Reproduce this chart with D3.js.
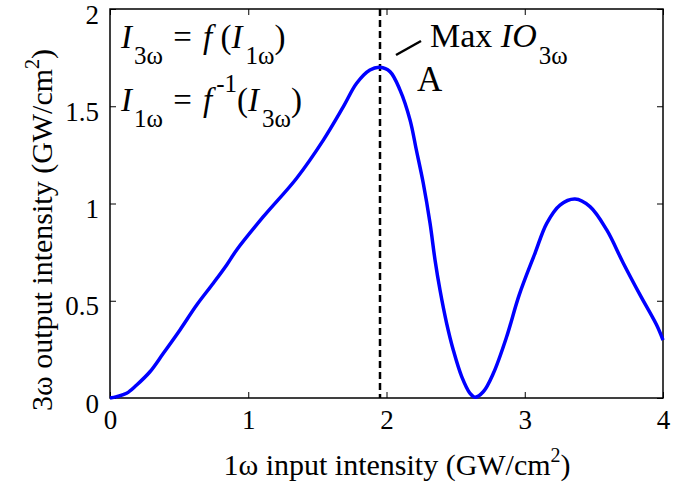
<!DOCTYPE html>
<html>
<head>
<meta charset="utf-8">
<script src="https://cdn.jsdelivr.net/npm/d3@7"></script>
<style>
  body { margin: 0; background: #fff; }
  svg text { font-family: "Liberation Serif", "Times New Roman", serif; fill: #000; }
</style>
</head>
<body>
<svg id="chart" width="687" height="487"></svg>
<script>
// input intensity (GW/cm^2)
const inputI = [0, 0.048, 0.12, 0.193, 0.289, 0.386, 0.506, 0.627, 0.747, 0.844, 0.916, 1.109, 1.35, 1.543, 1.688,
  1.784, 1.88, 1.953, 2.025, 2.098, 2.17, 2.216, 2.266, 2.315, 2.351, 2.387, 2.435, 2.483, 2.544, 2.604, 2.64,
  2.70, 2.773, 2.869, 2.96, 3.074, 3.159, 3.255, 3.364, 3.472, 3.593, 3.713, 3.834, 3.954, 4.0];
// 3w output intensity (GW/cm^2)
const outputI = [0, 0.007, 0.024, 0.067, 0.135, 0.23, 0.35, 0.478, 0.59, 0.684, 0.761, 0.932, 1.13, 1.326, 1.498,
  1.618, 1.686, 1.70, 1.678, 1.583, 1.43, 1.275, 1.104, 0.898, 0.71, 0.555, 0.384, 0.247, 0.11, 0.024, 0.004,
  0.032, 0.127, 0.315, 0.53, 0.744, 0.898, 0.992, 1.023, 0.984, 0.864, 0.693, 0.53, 0.375, 0.298];
const xTicks = [0, 1, 2, 3, 4];
const yTicks = [0, 0.5, 1, 1.5, 2];
const maxIO = 1.953; // position of the dashed marker

const svg = d3.select('#chart');
const margin = { left: 110, right: 24, top: 9, bottom: 89 };
const width = 687 - margin.left - margin.right;
const height = 487 - margin.top - margin.bottom;

const x = d3.scaleLinear().domain([0, 4]).range([0, width]);
const y = d3.scaleLinear().domain([0, 2]).range([height, 0]);

const g = svg.append('g').attr('transform', `translate(${margin.left},${margin.top})`);

// axes, ticks pointing inward like matlab
const styleAxis = (sel) => {
  sel.selectAll('.domain').remove();
  sel.selectAll('.tick line').attr('stroke', '#000').attr('stroke-width', 1);
  sel.selectAll('text').style('font-size', '27px').style('font-family', '"Liberation Serif", serif');
};
g.append('g').attr('transform', `translate(0,${height})`)
  .call(d3.axisBottom(x).tickValues(xTicks).tickFormat(d3.format('d')).tickSize(-6).tickPadding(12))
  .call(styleAxis);
g.append('g')
  .call(d3.axisTop(x).tickValues(xTicks).tickFormat('').tickSize(-6))
  .call(styleAxis);
g.append('g')
  .call(d3.axisLeft(y).tickValues(yTicks).tickFormat(d3.format('')).tickSize(-6).tickPadding(11))
  .call(styleAxis)
  .selectAll('text').attr('dy', '0.52em');
g.append('g').attr('transform', `translate(${width},0)`)
  .call(d3.axisRight(y).tickValues(yTicks).tickFormat('').tickSize(-6))
  .call(styleAxis);

g.append('rect')
  .attr('width', width).attr('height', height)
  .attr('fill', 'none').attr('stroke', '#000').attr('stroke-width', 1.5);

// dashed marker at max output
g.append('line')
  .attr('x1', x(maxIO)).attr('x2', x(maxIO))
  .attr('y1', 0).attr('y2', height)
  .attr('stroke', '#000').attr('stroke-width', 2.5)
  .attr('stroke-dasharray', '7,4');

// curve
const pts = inputI.map((d, i) => [d, outputI[i]]);
g.append('path')
  .datum(pts)
  .attr('fill', 'none')
  .attr('stroke', '#0000ff')
  .attr('stroke-width', 3.5)
  .attr('stroke-linejoin', 'round')
  .attr('d', d3.line().x(d => x(d[0])).y(d => y(Math.max(0, d[1]))).curve(d3.curveCatmullRom.alpha(0.5)));

// helper for text runs with italics / sub / superscripts (shifts in px)
const richText = (parent, px, py, size, runs, subSize, subShift, supShift) => {
  const t = parent.append('text').attr('x', px).attr('y', py).style('font-size', size + 'px');
  let shift = 0;
  runs.forEach(r => {
    const target = r.sub ? subShift : (r.sup ? -supShift : 0);
    const s = t.append('tspan').text(r.t).attr('dy', target - shift);
    shift = target;
    if (r.i) s.style('font-style', 'italic');
    if (r.sub || r.sup) s.style('font-size', subSize + 'px');
    if (r.dx) s.attr('dx', r.dx);
  });
  return t;
};

richText(svg, 121, 48, 33, [
  { t: 'I', i: true }, { t: '3ω', sub: true, dx: 2 }, { t: ' = ', dx: 2 }, { t: 'f', i: true, dx: 3 }, { t: ' (' },
  { t: 'I', i: true }, { t: '1ω', sub: true, dx: 3 }, { t: ')' }
], 25, 16, 0);
richText(svg, 121, 111, 33, [
  { t: 'I', i: true }, { t: '1ω', sub: true, dx: 2 }, { t: ' = ', dx: 2 }, { t: 'f', i: true, dx: 3 }, { t: '-1', sup: true, dx: 4 }, { t: '(' },
  { t: 'I', i: true }, { t: '3ω', sub: true, dx: 3 }, { t: ')' }
], 25, 16, 19);
richText(svg, 430, 47, 34, [
  { t: 'Max ' }, { t: 'IO', i: true }, { t: '3ω', sub: true, dx: 2 }
], 25, 17, 0);
svg.append('text').attr('x', 417).attr('y', 91).style('font-size', '35px').text('A');
svg.append('line')
  .attr('x1', 396).attr('y1', 55).attr('x2', 421).attr('y2', 41)
  .attr('stroke', '#000').attr('stroke-width', 2.5);

// axis titles
richText(svg, 397, 475, 30, [
  { t: '1ω input intensity (GW/cm' }, { t: '2', sup: true }, { t: ')' }
], 20, 0, 13).attr('text-anchor', 'middle');

richText(svg, 0, 0, 30, [
  { t: '3ω output intensity (GW/cm' }, { t: '2', sup: true }, { t: ')' }
], 20, 0, 13).attr('text-anchor', 'middle')
  .attr('transform', `translate(52,230) rotate(-90)`);
</script>
</body>
</html>
